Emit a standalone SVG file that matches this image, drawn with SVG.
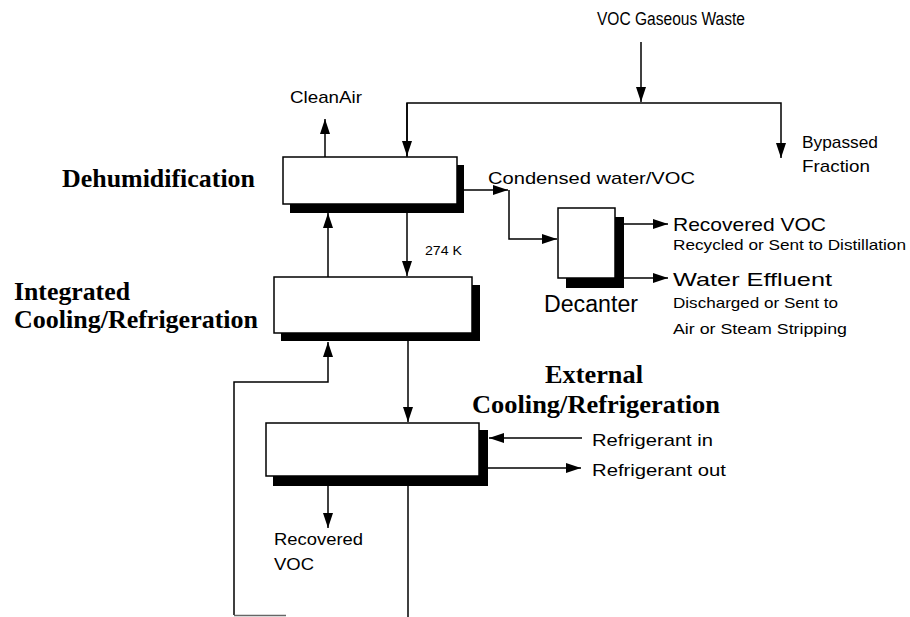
<svg xmlns="http://www.w3.org/2000/svg" width="910" height="617" viewBox="0 0 910 617">
<defs>
<style>
.ln{fill:none;stroke:#000;stroke-width:1.5}
.box{fill:#fff;stroke:#000;stroke-width:1.5}
.sh{fill:#000}
.s{font-family:"Liberation Sans",Arial,sans-serif;fill:#000}
.b{font-family:"Liberation Serif","Times New Roman",serif;font-weight:bold;fill:#000;font-size:26px}
</style>
<marker id="ah" markerUnits="userSpaceOnUse" markerWidth="16" markerHeight="12" refX="15" refY="5" orient="auto">
<path d="M0,0 L15,5 L0,10 Z" fill="#000"/>
</marker>
</defs>
<rect width="910" height="617" fill="#fff"/>
<g id="connectors">
<path class="ln" d="M641,42 V102" marker-end="url(#ah)"/>
<path class="ln" d="M407,157 V103 H781 V158" marker-end="url(#ah)"/>
<path class="ln" d="M407,103 V156" marker-end="url(#ah)"/>
<path class="ln" d="M325,157 V119" marker-end="url(#ah)"/>
<path class="ln" d="M464,190 H508" marker-end="url(#ah)"/>
<path class="ln" d="M509,190 V239 H557" marker-end="url(#ah)"/>
<path class="ln" d="M624,224 H668" marker-end="url(#ah)"/>
<path class="ln" d="M624,278 H668" marker-end="url(#ah)"/>
<path class="ln" d="M328,277 V213" marker-end="url(#ah)"/>
<path class="ln" d="M407,213 V276" marker-end="url(#ah)"/>
<path class="ln" d="M234,615 V382 H328 V342" marker-end="url(#ah)"/>
<path d="M234,615.5 H286" fill="none" stroke="#666" stroke-width="1.5"/>
<path class="ln" d="M408,341 V422" marker-end="url(#ah)"/>
<path class="ln" d="M582,438 H489" marker-end="url(#ah)"/>
<path class="ln" d="M488,468 H581" marker-end="url(#ah)"/>
<path class="ln" d="M328,486 V528" marker-end="url(#ah)"/>
<path class="ln" d="M408,486 V617"/>
</g>
<g id="dehumidification">
<rect class="sh" x="290" y="165" width="174" height="48"/>
<rect class="box" x="283" y="157" width="174" height="47"/>
<text class="b" x="62" y="187" textLength="193" lengthAdjust="spacingAndGlyphs">Dehumidification</text>
</g>
<g id="integrated">
<rect class="sh" x="281" y="285" width="199" height="56"/>
<rect class="box" x="274" y="277" width="198" height="56"/>
<text class="b" x="14" y="300" textLength="116" lengthAdjust="spacingAndGlyphs">Integrated</text>
<text class="b" x="14" y="328" textLength="244" lengthAdjust="spacingAndGlyphs">Cooling/Refrigeration</text>
</g>
<g id="external">
<rect class="sh" x="273" y="430" width="215" height="56"/>
<rect class="box" x="266" y="423" width="213" height="53"/>
<text class="b" x="545" y="383" textLength="98" lengthAdjust="spacingAndGlyphs">External</text>
<text class="b" x="472" y="413" textLength="248" lengthAdjust="spacingAndGlyphs">Cooling/Refrigeration</text>
</g>
<g id="decanter">
<rect class="sh" x="566" y="217" width="58" height="71"/>
<rect class="box" x="558" y="208" width="57" height="70"/>
<text class="s" x="544" y="312" font-size="23" textLength="94" lengthAdjust="spacingAndGlyphs">Decanter</text>
</g>
<g id="labels">
<text class="s" x="597" y="25" font-size="18" textLength="148" lengthAdjust="spacingAndGlyphs">VOC Gaseous Waste</text>
<text class="s" x="290" y="103" font-size="17" textLength="72" lengthAdjust="spacingAndGlyphs">CleanAir</text>
<text class="s" x="802" y="148" font-size="17" textLength="76" lengthAdjust="spacingAndGlyphs">Bypassed</text>
<text class="s" x="802" y="172" font-size="17" textLength="68" lengthAdjust="spacingAndGlyphs">Fraction</text>
<text class="s" x="488" y="184" font-size="17" textLength="207" lengthAdjust="spacingAndGlyphs">Condensed water/VOC</text>
<text class="s" x="425" y="255" font-size="13" textLength="37" lengthAdjust="spacingAndGlyphs">274 K</text>
<text class="s" x="673" y="231" font-size="19" textLength="153" lengthAdjust="spacingAndGlyphs">Recovered VOC</text>
<text class="s" x="673" y="250" font-size="15" textLength="233" lengthAdjust="spacingAndGlyphs">Recycled or Sent to Distillation</text>
<text class="s" x="673" y="286" font-size="19" textLength="159" lengthAdjust="spacingAndGlyphs">Water Effluent</text>
<text class="s" x="673" y="308" font-size="15" textLength="165" lengthAdjust="spacingAndGlyphs">Discharged or Sent to</text>
<text class="s" x="673" y="334" font-size="15" textLength="174" lengthAdjust="spacingAndGlyphs">Air or Steam Stripping</text>
<text class="s" x="592" y="446" font-size="17" textLength="121" lengthAdjust="spacingAndGlyphs">Refrigerant  in</text>
<text class="s" x="592" y="476" font-size="17" textLength="134" lengthAdjust="spacingAndGlyphs">Refrigerant  out</text>
<text class="s" x="274" y="545" font-size="17" textLength="89" lengthAdjust="spacingAndGlyphs">Recovered</text>
<text class="s" x="274" y="570" font-size="17" textLength="40" lengthAdjust="spacingAndGlyphs">VOC</text>
</g>
</svg>
